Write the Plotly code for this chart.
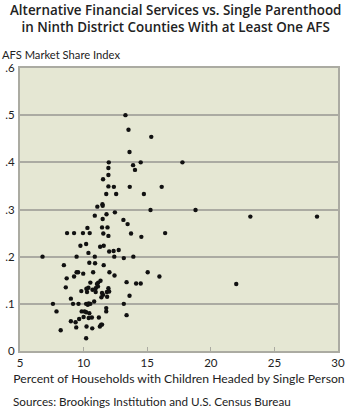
import plotly.graph_objects as go

# Share of households with children headed by a single person (%)
single_parent_pct = [
    13.29, 13.53, 15.32, 13.61, 11.98, 14.49, 13.89, 14.04, 11.95, 11.95,
    11.53, 11.95, 12.38, 13.63, 16.14, 11.78, 12.56, 14.74, 15.26, 17.77,
    18.80, 23.11, 28.35,
    11.08, 11.48, 11.50, 12.46, 11.80, 10.88, 11.50, 13.13, 13.46, 10.30,
    11.45, 11.88, 8.70, 9.25, 9.95, 10.48, 11.55, 11.95, 13.73, 14.54,
    16.41, 9.75, 10.20, 11.30, 11.58, 10.38, 12.01, 12.36, 12.76, 6.77,
    9.45, 10.88, 12.41, 13.16, 13.91, 10.45, 10.90, 8.45, 11.58, 9.45,
    9.57, 9.97, 10.75, 12.03, 15.04, 9.25, 12.43, 15.96, 8.67, 11.33,
    11.15, 11.05, 10.53, 13.38, 14.13, 14.49, 8.60, 10.38, 10.95, 11.95,
    9.82, 10.22, 10.27, 10.70, 10.95, 11.13, 11.45, 11.53, 11.40, 11.83,
    12.01, 11.85, 13.61, 9.00, 7.59, 9.17, 9.60, 10.20, 10.33, 10.40,
    10.53, 10.83, 13.16, 11.78, 11.78, 7.87, 9.85, 10.08, 10.20, 10.45,
    13.38, 10.00, 10.40, 10.65, 11.20, 9.65, 9.00, 9.37, 9.42, 10.23,
    10.68, 11.28, 11.38, 11.45, 8.20, 10.20, 22.00,
]

# AFS market share index
afs_index = [
    0.500, 0.469, 0.454, 0.422, 0.400, 0.400, 0.394, 0.384, 0.388, 0.373,
    0.364, 0.349, 0.348, 0.348, 0.348, 0.333, 0.333, 0.333, 0.299, 0.400,
    0.299, 0.285, 0.285,
    0.306, 0.311, 0.308, 0.294, 0.290, 0.287, 0.280, 0.278, 0.269, 0.261,
    0.262, 0.262, 0.250, 0.250, 0.250, 0.250, 0.249, 0.244, 0.249, 0.242,
    0.250, 0.223, 0.227, 0.221, 0.223, 0.208, 0.211, 0.212, 0.214, 0.200,
    0.200, 0.200, 0.200, 0.197, 0.200, 0.187, 0.186, 0.182, 0.182, 0.167,
    0.167, 0.164, 0.167, 0.167, 0.167, 0.158, 0.160, 0.158, 0.154, 0.149,
    0.145, 0.142, 0.145, 0.146, 0.143, 0.143, 0.135, 0.134, 0.133, 0.133,
    0.127, 0.132, 0.125, 0.130, 0.125, 0.137, 0.123, 0.119, 0.114, 0.125,
    0.126, 0.115, 0.117, 0.111, 0.100, 0.100, 0.100, 0.100, 0.098, 0.101,
    0.100, 0.105, 0.100, 0.091, 0.084, 0.084, 0.084, 0.084, 0.082, 0.080,
    0.076, 0.072, 0.070, 0.071, 0.071, 0.068, 0.063, 0.061, 0.050, 0.052,
    0.048, 0.052, 0.056, 0.056, 0.044, 0.027, 0.142,
]

x_ticks = [5, 10, 15, 20, 25, 30]
y_ticks = [0, 0.1, 0.2, 0.3, 0.4, 0.5, 0.6]
y_tick_text = ["0", ".1", ".2", ".3", ".4", ".5", ".6"]

title_lines = [
    "Alternative Financial Services vs. Single Parenthood",
    "in Ninth District Counties With at Least One AFS",
]

FONT = "Lato"
TITLE_FONT = "Open Sans"
TEXT = "#222222"
AXIS_GRAY = "#ABABA2"
PLOT_TOP = 67.5  # px from the top of the page to the plot area

fig = go.Figure(
    go.Scatter(
        x=single_parent_pct,
        y=afs_index,
        mode="markers",
        marker=dict(color="#111111", size=4.4, line=dict(width=0)),
        hoverinfo="x+y",
    )
)

annotations = [
    # two-line heading, centred over the page
    dict(
        text="<br>".join(title_lines),
        xref="paper", yref="paper",
        x=0.5, y=1, xshift=-3.75, yshift=PLOT_TOP - 17.5,
        xanchor="center", yanchor="middle", align="center",
        showarrow=False,
        font=dict(family=TITLE_FONT, size=13.4, weight=600, color=TEXT),
    ),
    dict(
        text="AFS Market Share Index",
        xref="paper", yref="paper",
        x=0, y=1, xshift=-20, yshift=PLOT_TOP - 53.5,
        xanchor="left", yanchor="middle",
        showarrow=False,
        font=dict(size=11.2),
    ),
    dict(
        text="Sources: Brookings Institution and U.S. Census Bureau",
        xref="paper", yref="paper",
        x=0, y=0, xshift=-9, yshift=-(401.7 - 351.3),
        xanchor="left", yanchor="middle",
        showarrow=False,
        font=dict(size=11.7),
    ),
]

fig.update_layout(
    width=350,
    height=409,
    margin=dict(l=12.5, r=5, t=PLOT_TOP, b=57.7),
    paper_bgcolor="white",
    plot_bgcolor="#E5E7D3",
    showlegend=False,
    font=dict(family=FONT, color=TEXT, size=11),
    xaxis=dict(
        range=[5, 30],
        tickvals=x_ticks,
        ticks="inside",
        ticklen=4,
        tickwidth=1,
        tickcolor=AXIS_GRAY,
        showgrid=False,
        zeroline=False,
        showline=True,
        linecolor=AXIS_GRAY,
        linewidth=1.5,
        mirror=True,
        tickfont=dict(size=11.5),
        title=dict(
            text="Percent of Households with Children Headed by Single Person",
            font=dict(size=12.2),
            standoff=7,
        ),
    ),
    yaxis=dict(
        range=[0, 0.6],
        tickvals=y_ticks,
        ticktext=y_tick_text,
        ticks="",
        showgrid=True,
        gridcolor=AXIS_GRAY,
        gridwidth=1.5,
        zeroline=False,
        showline=True,
        linecolor=AXIS_GRAY,
        linewidth=2,
        mirror=True,
        tickfont=dict(size=11.5),
        ticklabelstandoff=1,
    ),
    annotations=annotations,
)

fig.write_html("out.html")
